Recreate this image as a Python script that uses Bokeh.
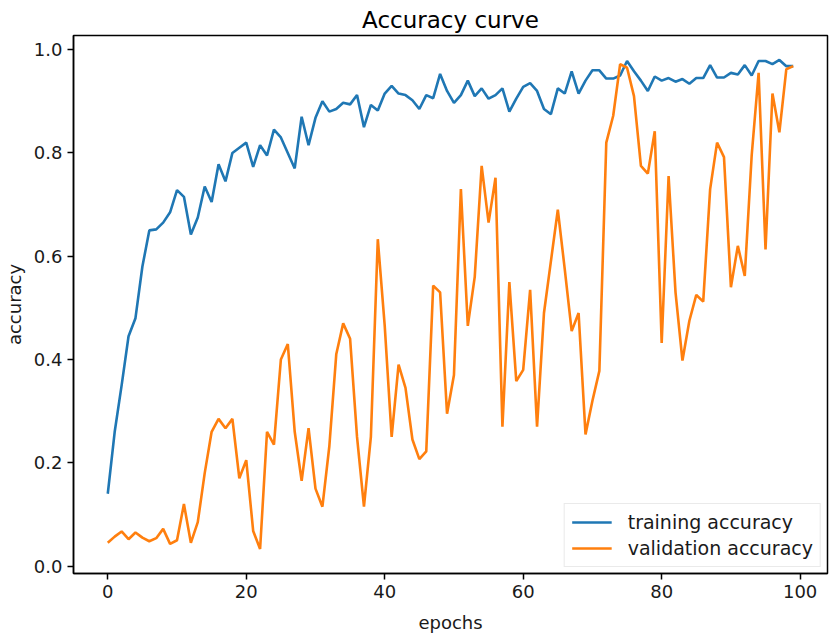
from bokeh.plotting import figure
from bokeh.models import Range1d, FixedTicker, Legend, LegendItem, PrintfTickFormatter
from bokeh.embed import file_html
from bokeh.resources import INLINE

epochs = list(range(100))
train_acc = [0.14, 0.26, 0.35, 0.445, 0.48, 0.58, 0.65, 0.652, 0.665, 0.685,
             0.728, 0.715, 0.642, 0.675, 0.735, 0.705, 0.778, 0.745, 0.80, 0.81,
             0.82, 0.773, 0.815, 0.795, 0.845, 0.83, 0.80, 0.77, 0.87, 0.815,
             0.868, 0.90, 0.88, 0.885, 0.897, 0.894, 0.912, 0.85, 0.893, 0.882,
             0.915, 0.93, 0.915, 0.912, 0.902, 0.885, 0.912, 0.906, 0.953, 0.92,
             0.897, 0.912, 0.94, 0.91, 0.925, 0.905, 0.912, 0.925, 0.88, 0.905,
             0.928, 0.935, 0.92, 0.885, 0.875, 0.925, 0.915, 0.958, 0.915, 0.94,
             0.96, 0.96, 0.944, 0.944, 0.95, 0.978, 0.958, 0.94, 0.92, 0.948,
             0.94, 0.945, 0.938, 0.943, 0.934, 0.945, 0.945, 0.97, 0.946, 0.946,
             0.955, 0.952, 0.97, 0.95, 0.978, 0.978, 0.972, 0.98, 0.968, 0.968]
val_acc = [0.045, 0.057, 0.067, 0.052, 0.065, 0.055, 0.048, 0.054, 0.072, 0.043,
           0.05, 0.12, 0.045, 0.085, 0.18, 0.26, 0.285, 0.267, 0.285, 0.17,
           0.205, 0.068, 0.033, 0.26, 0.235, 0.40, 0.43, 0.26, 0.165, 0.267,
           0.15, 0.115, 0.232, 0.41, 0.47, 0.44, 0.25, 0.115, 0.25, 0.633,
           0.465, 0.25, 0.39, 0.345, 0.245, 0.207, 0.222, 0.543, 0.53, 0.295,
           0.37, 0.73, 0.465, 0.56, 0.775, 0.665, 0.752, 0.27, 0.55, 0.358,
           0.38, 0.535, 0.27, 0.49, 0.59, 0.69, 0.575, 0.455, 0.49, 0.255,
           0.32, 0.378, 0.82, 0.872, 0.972, 0.965, 0.91, 0.775, 0.76, 0.842,
           0.432, 0.755, 0.53, 0.398, 0.475, 0.525, 0.512, 0.73, 0.82, 0.792,
           0.54, 0.62, 0.562, 0.795, 0.955, 0.613, 0.915, 0.84, 0.962, 0.968]
x_ticks = [0, 20, 40, 60, 80, 100]
y_ticks = [0.0, 0.2, 0.4, 0.6, 0.8, 1.0]

FONT = "DejaVu Sans"

p = figure(width=832, height=636, output_backend="svg", toolbar_location=None,
           x_range=Range1d(-4.95, 103.95), y_range=Range1d(-0.0144, 1.0274),
           min_border_left=73, min_border_right=5, min_border_top=35, min_border_bottom=63,
           title="Accuracy curve")
p.title.align = "center"
p.title.text_font = FONT
p.title.text_font_size = "23px"
p.title.text_font_style = "normal"
p.title.text_color = "#000000"
p.title.standoff = 5

p.xgrid.visible = False
p.ygrid.visible = False
p.outline_line_color = "black"
p.outline_line_width = 1.5

for ax in (p.xaxis[0], p.yaxis[0]):
    ax.major_tick_out = 6
    ax.major_tick_in = 0
    ax.minor_tick_out = 0
    ax.minor_tick_in = 0
    ax.axis_line_color = "black"
    ax.axis_line_width = 1.5
    ax.major_tick_line_color = "black"
    ax.major_tick_line_width = 1.5
    ax.major_label_text_font = FONT
    ax.major_label_text_font_size = "18px"
    ax.major_label_text_color = "#1a1a1a"
    ax.major_label_standoff = 5
    ax.axis_label_text_font = FONT
    ax.axis_label_text_font_size = "18px"
    ax.axis_label_text_font_style = "normal"
    ax.axis_label_text_color = "#1a1a1a"

p.xaxis.ticker = FixedTicker(ticks=x_ticks)
p.yaxis.ticker = FixedTicker(ticks=y_ticks)
p.yaxis.formatter = PrintfTickFormatter(format="%.1f")
p.xaxis.axis_label = "epochs"
p.yaxis.axis_label = "accuracy"
p.xaxis.axis_label_standoff = 11
p.yaxis.axis_label_standoff = 6

r1 = p.line(epochs, train_acc, line_color="#1f77b4", line_width=2.6)
r2 = p.line(epochs, val_acc, line_color="#ff7f0e", line_width=2.6)

legend = Legend(items=[LegendItem(label="training accuracy", renderers=[r1]),
                       LegendItem(label="validation accuracy", renderers=[r2])],
                location="bottom_right")
legend.label_text_font = FONT
legend.label_text_font_size = "19px"
legend.label_text_color = "#1a1a1a"
legend.border_line_color = "#d6d6d6"
legend.border_line_width = 1.5
legend.background_fill_alpha = 0.8
legend.glyph_width = 40
legend.label_standoff = 16
legend.spacing = 4
legend.padding = 7
legend.margin = 6
p.add_layout(legend)

open("out.html", "w").write(file_html(p, INLINE))
